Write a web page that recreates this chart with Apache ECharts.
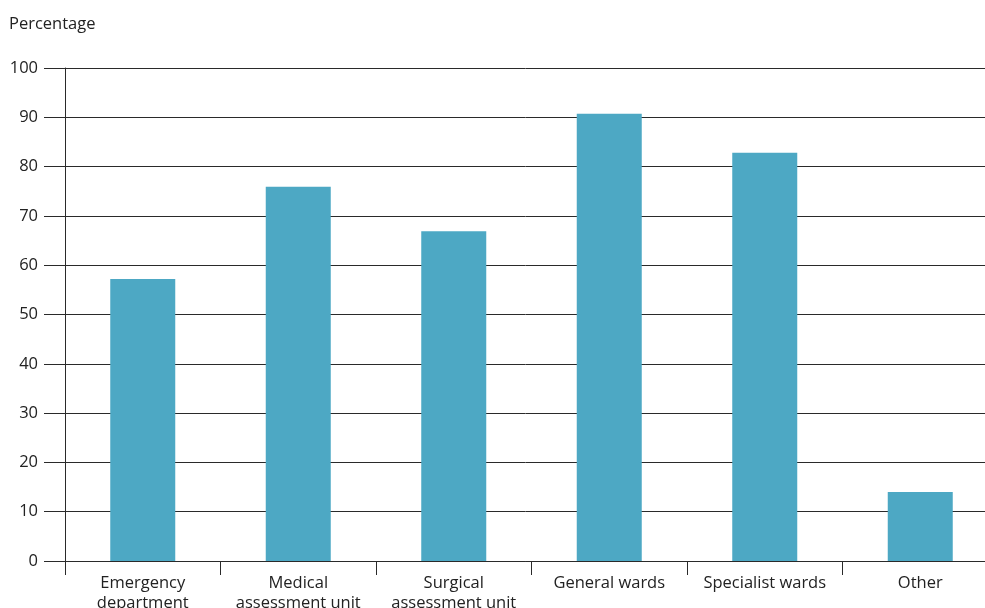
<!DOCTYPE html>
<html><head><meta charset="utf-8">
<script src="https://cdn.jsdelivr.net/npm/echarts@6/dist/echarts.min.js"></script>
<style>html,body{margin:0;padding:0;background:#fff}#c{width:985px;height:608px}</style>
</head><body><div id="c"></div>
<script>
const categories = ["Emergency\ndepartment", "Medical\nassessment unit", "Surgical\nassessment unit", "General wards", "Specialist wards", "Other"];
const values = [57.2, 75.9, 66.9, 90.7, 82.8, 14.0];
const yTicks = [0, 10, 20, 30, 40, 50, 60, 70, 80, 90, 100];

const chart = echarts.init(document.getElementById('c'), null, {renderer: 'canvas'});
const font = '"Open Sans", "Noto Sans", sans-serif';
chart.setOption({
  animation: false,
  textStyle: {fontFamily: font},
  graphic: [{type: 'text', left: 9, top: 16, style: {text: 'Percentage', font: '16.5px ' + font, fill: '#222'}}],
  grid: {left: 65, top: 68, right: -13, bottom: 47, containLabel: false, outerBoundsMode: 'none'},
  xAxis: {
    type: 'category', data: categories,
    axisLine: {show: true, lineStyle: {color: '#2a2a2a', width: 1}},
    axisTick: {show: true, length: 14, alignWithLabel: false, lineStyle: {color: '#2a2a2a'}},
    axisLabel: {fontSize: 16.5, color: '#222', margin: 12, lineHeight: 20, fontFamily: font, interval: 0},
    splitLine: {show: false}
  },
  yAxis: {
    type: 'value', min: yTicks[0], max: yTicks[yTicks.length - 1], interval: 10,
    axisLine: {show: true, lineStyle: {color: '#2a2a2a', width: 1}},
    axisTick: {show: true, length: 21, lineStyle: {color: '#2a2a2a'}},
    axisLabel: {fontSize: 16.5, color: '#222', margin: 27, fontFamily: font},
    splitLine: {show: true, lineStyle: {color: '#2a2a2a', width: 1}}
  },
  series: [{type: 'bar', data: values, barWidth: 65, itemStyle: {color: '#4da8c4'}}]
});
</script></body></html>
